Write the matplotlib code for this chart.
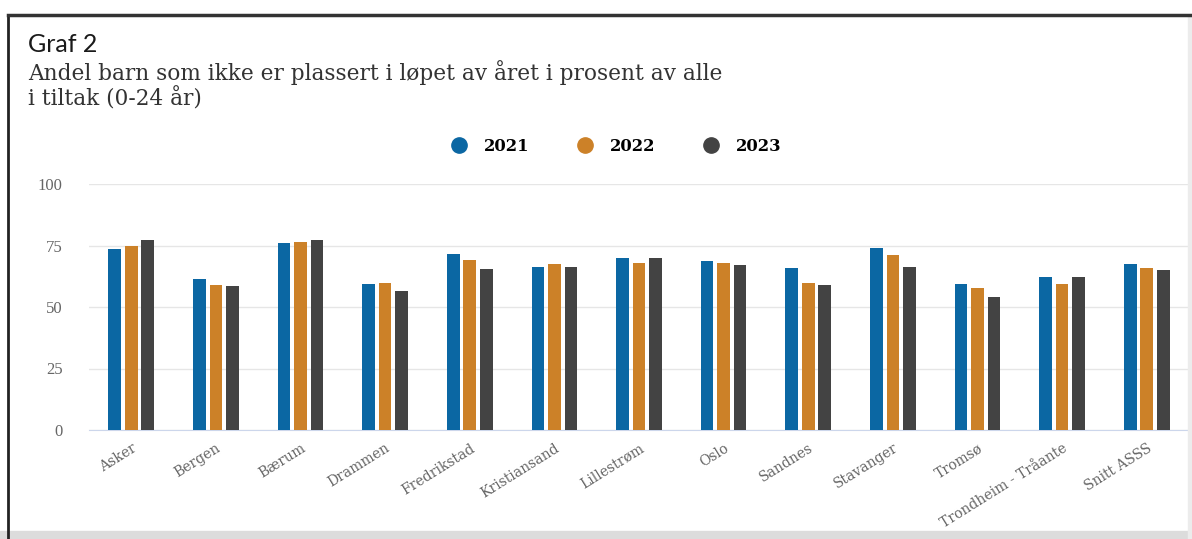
import matplotlib.pyplot as plt
import numpy as np
from matplotlib.lines import Line2D

kommuner = ["Asker", "Bergen", "Bærum", "Drammen", "Fredrikstad", "Kristiansand",
            "Lillestrøm", "Oslo", "Sandnes", "Stavanger", "Tromsø",
            "Trondheim - Tråante", "Snitt ASSS"]
aar = ["2021", "2022", "2023"]
v2021 = [73.6, 61.3, 76.0, 59.4, 71.7, 66.4, 69.8, 68.9, 66.0, 74.0, 59.4, 62.2, 67.4]
v2022 = [75.0, 59.0, 76.6, 59.8, 69.3, 67.4, 67.9, 67.9, 59.8, 71.2, 57.9, 59.4, 66.0]
v2023 = [77.4, 58.5, 77.4, 56.6, 65.5, 66.4, 69.8, 67.0, 58.9, 66.4, 54.1, 62.2, 65.1]
farger = ["#0b67a3", "#cc8128", "#434343"]

serif = "Liberation Serif"
bred_serif = "DejaVu Serif"

fig = plt.figure(figsize=(11.92, 5.39), dpi=100)
W, H = 1192, 539
ax = fig.add_axes([89 / W, 1 - 430 / H, 1100 / W, (430 - 184) / H])

x = np.arange(len(kommuner))
step = 0.195
for i, (verdier, farge) in enumerate(zip([v2021, v2022, v2023], farger)):
    ax.bar(x + (i - 1) * step, verdier, width=0.15, color=farge, zorder=3)

ax.set_xlim(-0.5, 12.5)
ax.set_ylim(0, 100)
ax.set_yticks([0, 25, 50, 75, 100])
ax.yaxis.grid(True, color="#e6e6e6", linewidth=1, zorder=0)
for s in ["top", "right", "left"]:
    ax.spines[s].set_visible(False)
ax.spines["bottom"].set_color("#ccd6eb")
ax.tick_params(axis="both", length=0)
ax.tick_params(axis="y", pad=19, labelcolor="#666666", labelsize=12)
for t in ax.get_yticklabels():
    t.set_fontfamily(serif)
ax.set_xticks(x)
ax.set_xticklabels(kommuner, rotation=32, ha="right", rotation_mode="anchor",
                   fontfamily=bred_serif, fontsize=10, color="#666666")
ax.tick_params(axis="x", pad=8)

# titler
fig.text(28 / W, 1 - 45 / H, "Graf 2", fontfamily="Lato", fontsize=18,
         va="center", ha="left", color="#1a1a1a")
fig.text(28 / W, 1 - 73 / H,
         "Andel barn som ikke er plassert i løpet av året i prosent av alle",
         fontfamily=bred_serif, fontsize=15.6, va="center", ha="left", color="#333333")
fig.text(28 / W, 1 - 99 / H, "i tiltak (0-24 år)",
         fontfamily=bred_serif, fontsize=15.6, va="center", ha="left", color="#333333")

# legende
handles = [Line2D([], [], marker="o", linestyle="", markersize=11,
                  markerfacecolor=f, markeredgecolor=f) for f in farger]
fig.legend(handles, aar, loc="center", bbox_to_anchor=(612 / W, 1 - 146 / H),
           ncol=3, frameon=False, handletextpad=0.5, columnspacing=2.4,
           prop={"family": bred_serif, "weight": "bold", "size": 11.8})

# ramme
fig.add_artist(Line2D([8 / W, 8 / W], [0, 1 - 15 / H], color="#222222",
                      linewidth=2, transform=fig.transFigure))
fig.add_artist(Line2D([8 / W, 1], [1 - 15 / H, 1 - 15 / H], color="#333333",
                      linewidth=2.5, transform=fig.transFigure))
fig.add_artist(plt.Rectangle((0, 0), 1, 8 / H, color="#dcdcdc",
                             transform=fig.transFigure))
fig.add_artist(plt.Rectangle((1188 / W, 0), 4 / W, 1 - 16 / H, color="#ececec",
                             transform=fig.transFigure))

fig.savefig("out.png", dpi=100)
